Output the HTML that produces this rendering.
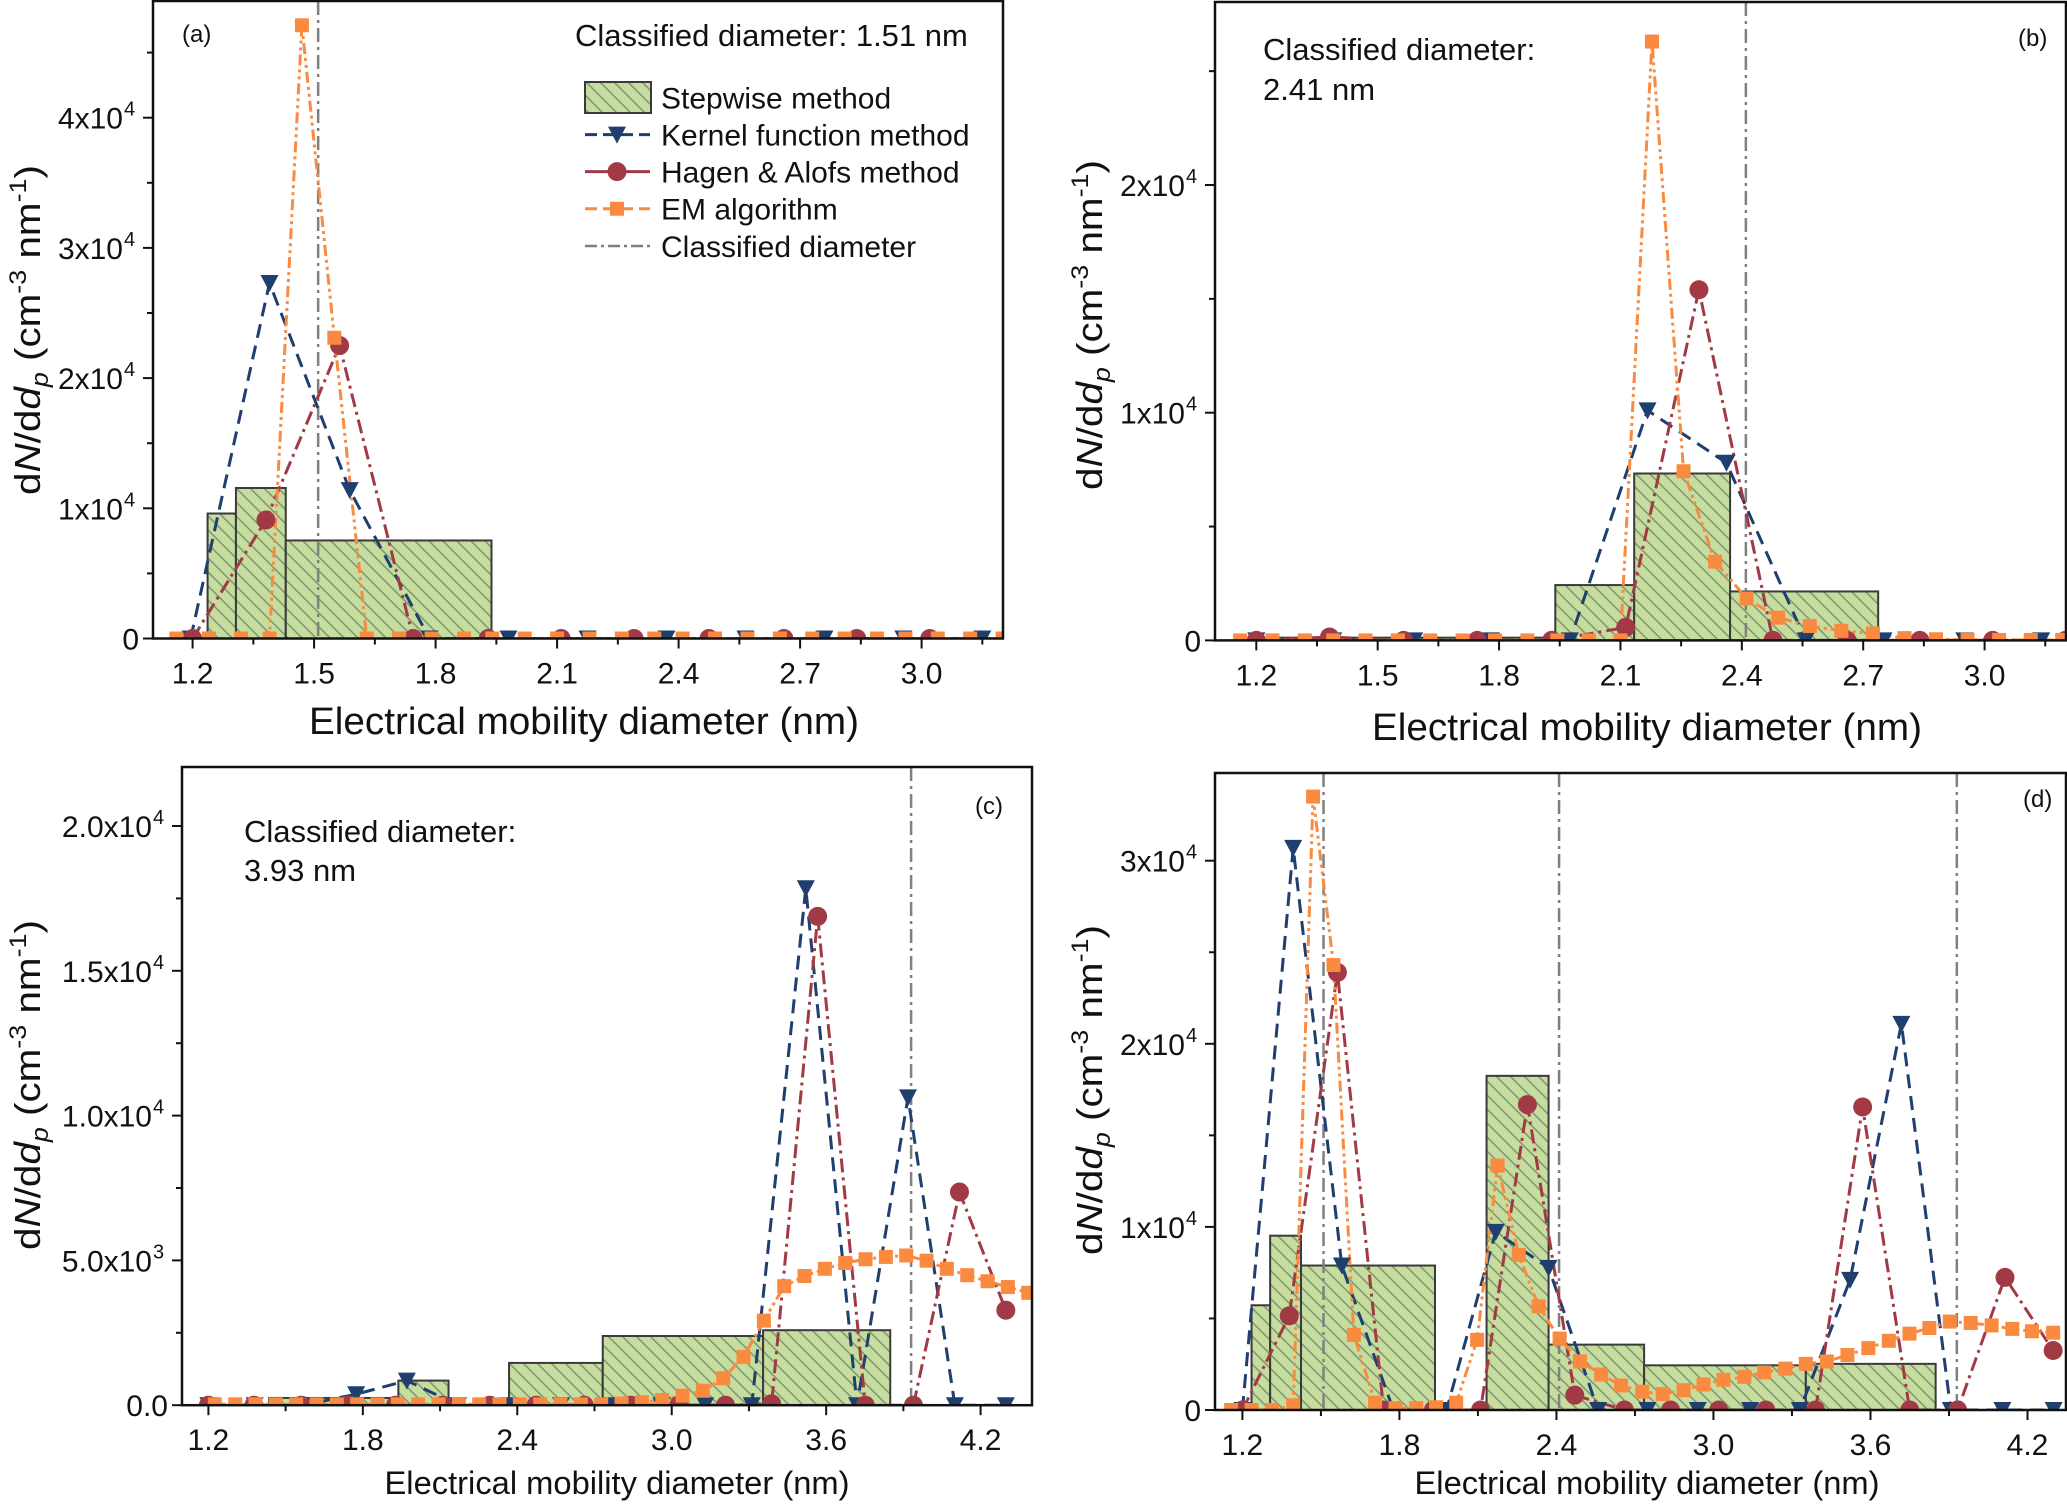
<!DOCTYPE html>
<html><head><meta charset="utf-8"><style>
html,body{margin:0;padding:0;background:#fff;}
svg{display:block;font-family:"Liberation Sans Narrow","Liberation Sans",sans-serif;}
</style></head><body>
<svg id="fig" xmlns="http://www.w3.org/2000/svg" width="2067" height="1507" viewBox="0 0 2067 1507">
<defs>
<pattern id="hatch" patternUnits="userSpaceOnUse" width="14" height="14">
<rect width="14" height="14" fill="#c6dd9e"/>
<path d="M-2,-2 L16,16 M-16,-2 L2,16 M12,-2 L30,16" stroke="#7f9a78" stroke-width="1.6"/>
</pattern>
</defs>
</svg>
<script>
// ---------- Panel (a) data ----------
var A_binL=[1.237,1.307,1.430];
var A_binR=[1.307,1.430,1.938];
var A_binH=[9600,11560,7530];
var A_kerX=[1.195,1.39,1.588,1.785,1.98,2.175,2.37,2.565,2.76,2.955,3.15];
var A_kerY=[0,27300,11400,0,0,0,0,0,0,0,0];
var A_hagX=[1.2,1.381,1.563,1.745,1.93,2.11,2.29,2.475,2.66,2.84,3.02];
var A_hagY=[0,9100,22500,0,0,0,0,0,0,0,0];
var A_emX=[1.16,1.24,1.32,1.39,1.47,1.55,1.63,1.71,1.79,1.87,1.94,2.02,2.10,2.18,2.26,2.34,2.41,2.49,2.57,2.65,2.73,2.81,2.89,2.96,3.04,3.12,3.20];
var A_emY=[0,0,0,0,47100,23100,0,0,0,0,0,0,0,0,0,0,0,0,0,0,0,0,0,0,0,0,0];
var A_cls=[1.51];
// ---------- Panel (b) data ----------
var B_binL=[1.25,1.939,2.134,2.371];
var B_binR=[1.939,2.134,2.371,2.737];
var B_binH=[120,2430,7330,2150];
var B_kerX=[1.2,1.39,1.59,1.78,1.975,2.167,2.362,2.558,2.75,2.95,3.14];
var B_kerY=[0,0,0,0,0,10100,7800,0,0,0,0];
var B_hagX=[1.2,1.381,1.564,1.746,1.93,2.113,2.294,2.477,2.66,2.84,3.02,3.2];
var B_hagY=[0,150,0,0,0,570,15400,0,0,0,0,0];
var B_emX=[1.16,1.24,1.32,1.39,1.47,1.55,1.63,1.71,1.79,1.87,1.944,2.022,2.100,2.178,2.256,2.334,2.412,2.490,2.568,2.646,2.724,2.802,2.88,2.958,3.036,3.114,3.192];
var B_emY=[0,0,0,0,0,0,0,0,0,0,0,0,0,26300,7430,3460,1840,1000,630,420,300,100,50,30,20,20,20];
var B_cls=[2.41];
// ---------- Panel (c) data ----------
var C_binL=[1.436,1.938,2.368,2.732,3.355];
var C_binR=[1.938,2.133,2.732,3.355,3.849];
var C_binH=[250,850,1460,2390,2590];
var C_kerX=[1.20,1.38,1.57,1.774,1.971,2.17,2.37,2.57,2.77,2.96,3.13,3.311,3.521,3.72,3.918,4.10,4.298];
var C_kerY=[0,0,0,380,850,0,0,0,0,0,0,0,17850,0,10630,0,0];
var C_hagX=[1.2,1.377,1.561,1.74,1.927,2.109,2.293,2.473,2.66,2.84,3.027,3.209,3.388,3.567,3.752,3.939,4.118,4.298];
var C_hagY=[0,0,0,0,0,0,0,0,0,0,0,0,50,16880,0,0,7360,3280];
var C_emX=[1.225,1.304,1.383,1.462,1.541,1.62,1.699,1.778,1.857,1.936,2.015,2.094,2.173,2.252,2.331,2.41,2.489,2.568,2.647,2.726,2.805,2.884,2.963,3.042,3.121,3.200,3.279,3.358,3.437,3.516,3.595,3.674,3.753,3.832,3.911,3.990,4.069,4.148,4.227,4.306,4.385];
var C_emY=[30,30,30,30,30,30,30,30,30,30,30,30,30,30,30,30,30,30,30,30,60,100,180,330,500,930,1670,2920,4110,4460,4710,4910,5040,5120,5170,4990,4710,4490,4280,4080,3880];
var C_cls=[3.93];
// ---------- Panel (d) data ----------
var D_binL=[1.235,1.306,1.424,2.133,2.370,2.735,3.353];
var D_binR=[1.306,1.424,1.936,2.370,2.735,3.353,3.849];
var D_binH=[5720,9520,7890,18250,3570,2440,2520];
var D_kerX=[1.2,1.394,1.58,1.777,1.98,2.168,2.37,2.559,2.748,2.94,3.14,3.33,3.522,3.718,3.907,4.104,4.3];
var D_kerY=[0,30700,7890,0,0,9730,7760,0,0,0,0,0,7110,21090,0,0,0];
var D_hagX=[1.2,1.379,1.563,1.74,1.93,2.11,2.289,2.47,2.66,2.836,3.02,3.2,3.39,3.57,3.75,3.933,4.114,4.298];
var D_hagY=[0,5140,23900,0,0,0,16680,810,0,0,0,0,0,16550,0,0,7240,3250];
var D_emX=[1.157,1.235,1.313,1.394,1.47,1.548,1.626,1.707,1.785,1.864,1.94,2.017,2.097,2.175,2.256,2.332,2.412,2.49,2.571,2.647,2.728,2.806,2.886,2.962,3.038,3.118,3.194,3.275,3.353,3.433,3.512,3.592,3.67,3.749,3.825,3.903,3.983,4.063,4.142,4.217,4.298];
var D_emY=[0,0,0,260,33500,24300,4100,400,100,100,150,400,3830,13350,8470,5660,3900,2650,1940,1340,1000,870,1080,1390,1650,1810,2050,2260,2520,2650,3000,3380,3780,4170,4480,4830,4750,4620,4430,4300,4220];
var D_cls=[1.51,2.41,3.93];
// ---------- tick labels ----------
var X_TICKS_AB=[1.2,1.5,1.8,2.1,2.4,2.7,3.0];
var X_TICKS_CD=[1.2,1.8,2.4,3.0,3.6,4.2];
var Y_TICKS_A=[0,10000,20000,30000,40000];
var Y_LABELS_A=[["0",""],["1x10","4"],["2x10","4"],["3x10","4"],["4x10","4"]];
var Y_TICKS_B=[0,10000,20000];
var Y_LABELS_B=[["0",""],["1x10","4"],["2x10","4"]];
var Y_TICKS_C=[0,5000,10000,15000,20000];
var Y_LABELS_C=[["0.0",""],["5.0x10","3"],["1.0x10","4"],["1.5x10","4"],["2.0x10","4"]];
var Y_TICKS_D=[0,10000,20000,30000];
var Y_LABELS_D=[["0",""],["1x10","4"],["2x10","4"],["3x10","4"]];

var NS="http://www.w3.org/2000/svg";
var svg=document.getElementById('fig');
function mk(tag,attrs,parent){var e=document.createElementNS(NS,tag);for(var k in attrs)e.setAttribute(k,attrs[k]);(parent||svg).appendChild(e);return e;}

var KER="#1f3f6e",HAG="#a23a46",EM="#fa8a3f",CLS="#808080";

function panel(cfg){
  var g=mk('g',{});
  
  
  function sx(v){return cfg.x12+(v-1.2)*cfg.pxnm;}
  function sy(v){return cfg.y0-v/cfg.unit*cfg.pxunit;}
  var cid='clip'+cfg.id;
  var cp=mk('clipPath',{id:cid},g);
  mk('rect',{x:cfg.L,y:cfg.T,width:cfg.R-cfg.L,height:cfg.y0-cfg.T},cp);
  var plot=mk('g',{'clip-path':'url(#'+cid+')'},g);
  
  
  // bars
  for(var i=0;i<cfg.binL.length;i++){
    var r=mk('rect',{x:sx(cfg.binL[i]),y:sy(cfg.binH[i]),width:sx(cfg.binR[i])-sx(cfg.binL[i]),height:sy(0)-sy(cfg.binH[i]),fill:'url(#hatch)',stroke:'#3a3a3a','stroke-width':2},plot);
    
    
  }
  // classified lines
  for(var c=0;c<cfg.cls.length;c++){
    var l=mk('line',{x1:sx(cfg.cls[c]),x2:sx(cfg.cls[c]),y1:cfg.T,y2:cfg.y0,stroke:CLS,'stroke-width':2.5,'stroke-dasharray':'14,5,3,5'},plot);
    
    
  }
  function series(X,Y,color,dash,name){
    var d='';for(var i=0;i<X.length;i++)d+=(i?'L':'M')+sx(X[i]).toFixed(1)+','+sy(Y[i]).toFixed(1);
    var p=mk('path',{d:d,fill:'none',stroke:color,'stroke-width':3,'stroke-dasharray':dash},plot);
    
    
  }
  function markers(X,Y,type,name){
    for(var i=0;i<X.length;i++){
      var x=sx(X[i]),y=sy(Y[i]),m;
      if(x<cfg.L-2||x>cfg.R+2)continue;
      if(type==='tri')m=mk('path',{d:'M'+(x-9)+','+(y-8)+'L'+(x+9)+','+(y-8)+'L'+x+','+(y+9)+'Z',fill:KER},plot);
      else if(type==='cir')m=mk('circle',{cx:x,cy:y,r:9.5,fill:HAG},plot);
      else m=mk('rect',{x:x-7,y:y-7,width:14,height:14,fill:EM},plot);
      
      
    }
  }
  series(cfg.kerX,cfg.kerY,KER,'14,8','kernel');
  series(cfg.hagX,cfg.hagY,HAG,'14,5,3,5','hagen');
  series(cfg.emX,cfg.emY,EM,'11,4,3,4,3,4','em');
  markers(cfg.kerX,cfg.kerY,'tri','kernel');
  markers(cfg.hagX,cfg.hagY,'cir','hagen');
  markers(cfg.emX,cfg.emY,'sq','em');
  // frame
  var f=mk('rect',{x:cfg.L,y:cfg.T,width:cfg.R-cfg.L,height:cfg.y0-cfg.T,fill:'none',stroke:'#111','stroke-width':2.5},g);
  
  
  // x ticks
  var step=cfg.xt[1]-cfg.xt[0];
  for(var v=cfg.xt[0]-step/2;sx(v)<=cfg.R;v+=step/2){
    var xx=sx(v);if(xx<cfg.L)continue;
    var major=Math.abs(((v-cfg.xt[0])/step)-Math.round((v-cfg.xt[0])/step))<0.01;
    mk('line',{x1:xx,x2:xx,y1:cfg.y0,y2:cfg.y0+(major?10:6),stroke:'#111','stroke-width':2},g);
  }
  for(var i=0;i<cfg.xt.length;i++){
    var t=mk('text',{x:sx(cfg.xt[i]),y:cfg.y0+45,'text-anchor':'middle','font-size':30,fill:'#111'},g);
    t.textContent=cfg.xt[i].toFixed(1);
    
    
  }
  // y ticks
  var ys=cfg.yt[1]-cfg.yt[0];
  for(var v=0;sy(v)>=cfg.T;v+=ys/2){
    var major=Math.round(v/ys*2)%2===0;
    mk('line',{x1:cfg.L,x2:cfg.L-(major?10:6),y1:sy(v),y2:sy(v),stroke:'#111','stroke-width':2},g);
  }
  for(var i=0;i<cfg.yt.length;i++){
    var t=mk('text',{x:cfg.L-(cfg.yl[i][1]?30:14),y:sy(cfg.yt[i])+11,'text-anchor':'end','font-size':30,fill:'#111'},g);
    t.textContent=cfg.yl[i][0];
    
    
    if(cfg.yl[i][1]){var s=mk('text',{x:cfg.L-29,y:sy(cfg.yt[i])-2,'font-size':20,fill:'#111'},g);s.textContent=cfg.yl[i][1];
      
      }
  }
  // axis titles
  var xt=mk('text',{x:cfg.xtx,y:cfg.xty,'text-anchor':'middle','font-size':cfg.xtfs,fill:'#111',textLength:cfg.xtlen,lengthAdjust:'spacingAndGlyphs'},g);
  xt.textContent='Electrical mobility diameter (nm)';
  
  
  var yt=mk('text',{transform:'translate('+cfg.ytx+','+cfg.yty+') rotate(-90)','text-anchor':'middle','font-size':36,fill:'#111',style:'font-family:"Liberation Sans",sans-serif',textLength:330,lengthAdjust:'spacingAndGlyphs'},g);
  yt.innerHTML='d<tspan font-style="italic">N</tspan>/d<tspan font-style="italic">d</tspan><tspan font-style="italic" font-size="24" dy="8">p</tspan><tspan dy="-8"> (cm</tspan><tspan font-size="24" dy="-14">-3</tspan><tspan dy="14"> nm</tspan><tspan font-size="24" dy="-14">-1</tspan><tspan dy="14">)</tspan>';
  
  
  // panel label
  var pl=mk('text',{x:cfg.plx,y:cfg.ply,'font-size':24,fill:'#111'},g);
  pl.textContent='('+cfg.id+')';
  
  
  // annotation
  for(var i=0;i<cfg.ann.length;i++){
    var a=mk('text',{x:cfg.ann[i][0],y:cfg.ann[i][1],'font-size':31,fill:'#111'},g);
    a.textContent=cfg.ann[i][2];
    
    
  }
  return g;
}

panel({id:'a',L:153,R:1003,T:1,y0:638.5,x12:192.6,pxnm:405,unit:10000,pxunit:130.2,
  binL:A_binL,binR:A_binR,binH:A_binH,kerX:A_kerX,kerY:A_kerY,hagX:A_hagX,hagY:A_hagY,emX:A_emX,emY:A_emY,cls:A_cls,
  xt:X_TICKS_AB,yt:Y_TICKS_A,yl:Y_LABELS_A,xtx:584,xty:734,xtfs:38,xtlen:550,ytx:40,yty:330,plx:182,ply:42,
  ann:[[575,46,'Classified diameter: 1.51 nm']]});
panel({id:'b',L:1215,R:2066,T:2,y0:640.4,x12:1256.3,pxnm:404.6,unit:10000,pxunit:227.7,
  binL:B_binL,binR:B_binR,binH:B_binH,kerX:B_kerX,kerY:B_kerY,hagX:B_hagX,hagY:B_hagY,emX:B_emX,emY:B_emY,cls:B_cls,
  xt:X_TICKS_AB,yt:Y_TICKS_B,yl:Y_LABELS_B,xtx:1647,xty:740,xtfs:38,xtlen:550,ytx:1102,yty:325,plx:2018,ply:46,
  ann:[[1263,60,'Classified diameter:'],[1263,100,'2.41 nm']]});
panel({id:'c',L:182,R:1032,T:767,y0:1405.2,x12:208.4,pxnm:257.4,unit:5000,pxunit:144.8,
  binL:C_binL,binR:C_binR,binH:C_binH,kerX:C_kerX,kerY:C_kerY,hagX:C_hagX,hagY:C_hagY,emX:C_emX,emY:C_emY,cls:C_cls,
  xt:X_TICKS_CD,yt:Y_TICKS_C,yl:Y_LABELS_C,xtx:617,xty:1494,xtfs:32,xtlen:465,ytx:40,yty:1085,plx:975,ply:814,
  ann:[[244,842,'Classified diameter:'],[244,881,'3.93 nm']]});
panel({id:'d',L:1215,R:2066,T:773,y0:1410,x12:1242.4,pxnm:261.7,unit:10000,pxunit:183.1,
  binL:D_binL,binR:D_binR,binH:D_binH,kerX:D_kerX,kerY:D_kerY,hagX:D_hagX,hagY:D_hagY,emX:D_emX,emY:D_emY,cls:D_cls,
  xt:X_TICKS_CD,yt:Y_TICKS_D,yl:Y_LABELS_D,xtx:1647,xty:1494,xtfs:32,xtlen:465,ytx:1102,yty:1090,plx:2023,ply:807,
  ann:[]});

// legend in panel (a)
var lg=mk('g',{});


var lrows=[['Stepwise method','bar',97.6],['Kernel function method','ker',134.6],['Hagen & Alofs method','hag',171.6],['EM algorithm','em',208.7],['Classified diameter','cls',246]];
for(var i=0;i<lrows.length;i++){
  var r=lrows[i],y=r[2],e;
  var eg=mk('g',{},lg);
  
  
  if(r[1]==='bar')mk('rect',{x:585,y:82,width:66,height:31,fill:'url(#hatch)',stroke:'#3a3a3a','stroke-width':2},eg);
  else if(r[1]==='ker'){mk('line',{x1:585,x2:650,y1:y,y2:y,stroke:KER,'stroke-width':3,'stroke-dasharray':'12,6'},eg);mk('path',{d:'M608,'+(y-8)+'L626,'+(y-8)+'L617,'+(y+9)+'Z',fill:KER},eg);}
  else if(r[1]==='hag'){mk('line',{x1:585,x2:650,y1:y,y2:y,stroke:HAG,'stroke-width':3},eg);mk('circle',{cx:617,cy:y,r:9.5,fill:HAG},eg);}
  else if(r[1]==='em'){mk('line',{x1:585,x2:650,y1:y,y2:y,stroke:EM,'stroke-width':3,'stroke-dasharray':'12,6'},eg);mk('rect',{x:610,y:y-7,width:14,height:14,fill:EM},eg);}
  else mk('line',{x1:585,x2:650,y1:y,y2:y,stroke:CLS,'stroke-width':2.5,'stroke-dasharray':'12,4,3,4'},eg);
  var t=mk('text',{x:661,y:y+11,'font-size':30,fill:'#111'},eg);
  t.textContent=r[0];
}
</script>
</body></html>
